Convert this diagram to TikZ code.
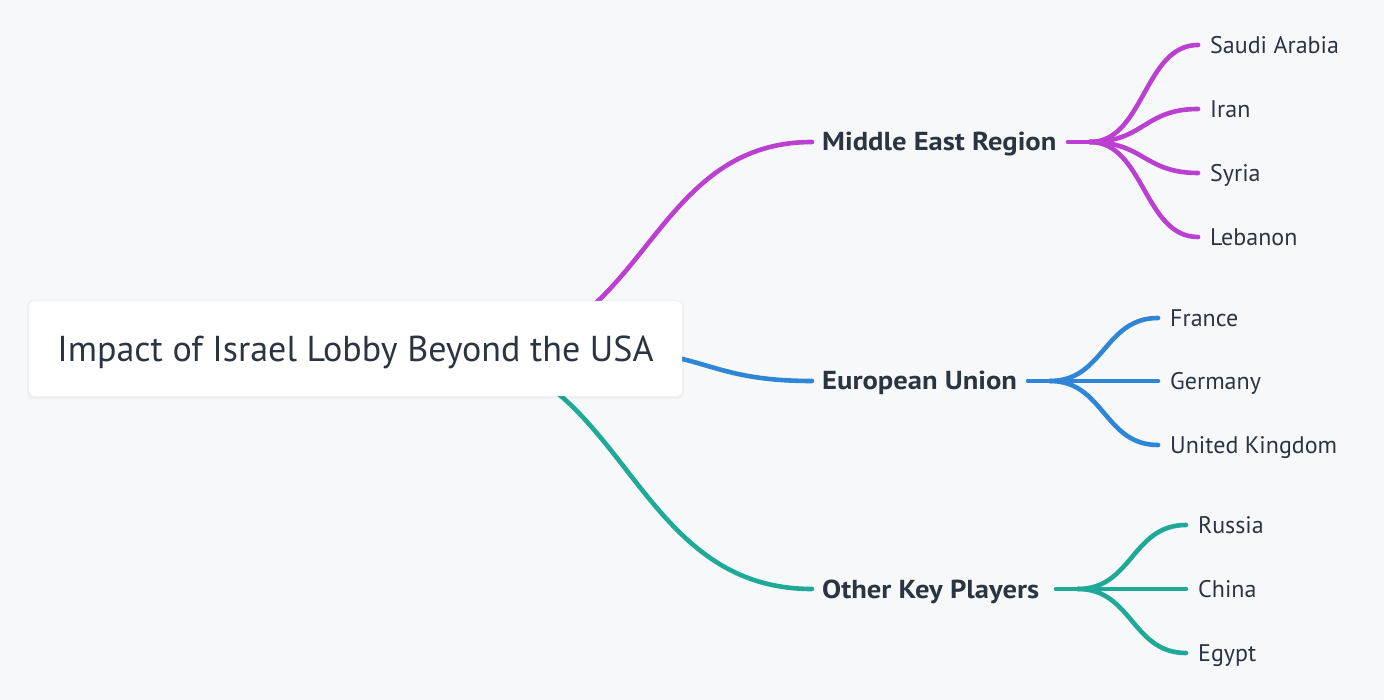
\documentclass[tikz,border=0pt]{standalone}
\usepackage{fontspec}
\setmainfont{PT Sans}
\newfontfamily\headfont[FakeStretch=1.1]{PT Sans}
\definecolor{bg}{HTML}{F6F8FA}
\definecolor{ink}{HTML}{2B3541}
\definecolor{cmag}{HTML}{BB3FD0}
\definecolor{cblue}{HTML}{2F86D6}
\definecolor{cgreen}{HTML}{1FAA97}
\begin{document}
\begin{tikzpicture}[x=1pt,y=-1pt,
  link/.style={line width=4.6pt,line cap=round},
  lbl/.style={anchor=base west,inner sep=0pt,text=ink},
  head/.style={lbl,font=\headfont\fontsize{26}{30}\selectfont\bfseries},
  leaf/.style={lbl,font=\fontsize{24}{28}\selectfont}]
\fill[bg] (0,0) rectangle (1384,700);
\useasboundingbox (0,0) rectangle (1384,700);
% anchor coordinates
\coordinate (rm) at (480,350);
\coordinate (rb) at (600,350);
\coordinate (rg) at (440,350);
\coordinate (me-in) at (812,142);
\coordinate (eu-in) at (812,381);
\coordinate (ok-in) at (812,589);
\coordinate (me-out) at (1068,142);
\coordinate (me-hub) at (1090,142);
\coordinate (eu-out) at (1028,381);
\coordinate (eu-hub) at (1050,381);
\coordinate (ok-out) at (1056,589);
\coordinate (ok-hub) at (1078,589);
% main branches
\draw[link,cmag] (rm) .. controls (646,350) and (646,142) .. (me-in);
\draw[link,cblue] (rb) .. controls (706,350) and (706,381) .. (eu-in);
\draw[link,cgreen] (rg) .. controls (626,350) and (626,589) .. (ok-in);
% root box
\fill[black,opacity=0.03,rounded corners=7pt] (27,300) rectangle (684,399);
\fill[white,rounded corners=6pt] (29,301) rectangle (682,396);
\node[lbl,anchor=base,font=\fontsize{36}{40}\selectfont] (root) at (355.5,362) {Impact of Israel Lobby Beyond the USA};
% level 1
\node[head] (me) at (822,151) {Middle East Region};
\node[head] (eu) at (822,390) {European Union};
\node[head] (ok) at (822,598) {Other Key Players};
\draw[link,cmag] (me-out) -- (me-hub);
\draw[link,cblue] (eu-out) -- (eu-hub);
\draw[link,cgreen] (ok-out) -- (ok-hub);
% leaves Middle East
\foreach \n/\y/\t in {sa/45/Saudi Arabia, ir/109/Iran, sy/173/Syria, lb/237/Lebanon}{
  \coordinate (\n-e) at (1198,\y);
  \node[leaf] (\n) at (1210,\y+8.5) {\t};
  \draw[link,cmag] (me-hub) .. controls (1144,142) and (1144,\y) .. (\n-e);
}
\foreach \n/\y/\t in {fr/318/France, de/381/Germany, uk/445/United Kingdom}{
  \coordinate (\n-e) at (1158,\y);
  \node[leaf] (\n) at (1170,\y+8.5) {\t};
  \draw[link,cblue] (eu-hub) .. controls (1104,381) and (1104,\y) .. (\n-e);
}
\foreach \n/\y/\t in {ru/525/Russia, cn/589/China, eg/653/Egypt}{
  \coordinate (\n-e) at (1186,\y);
  \node[leaf] (\n) at (1198,\y+8.5) {\t};
  \draw[link,cgreen] (ok-hub) .. controls (1132,589) and (1132,\y) .. (\n-e);
}
\end{tikzpicture}
\end{document}
